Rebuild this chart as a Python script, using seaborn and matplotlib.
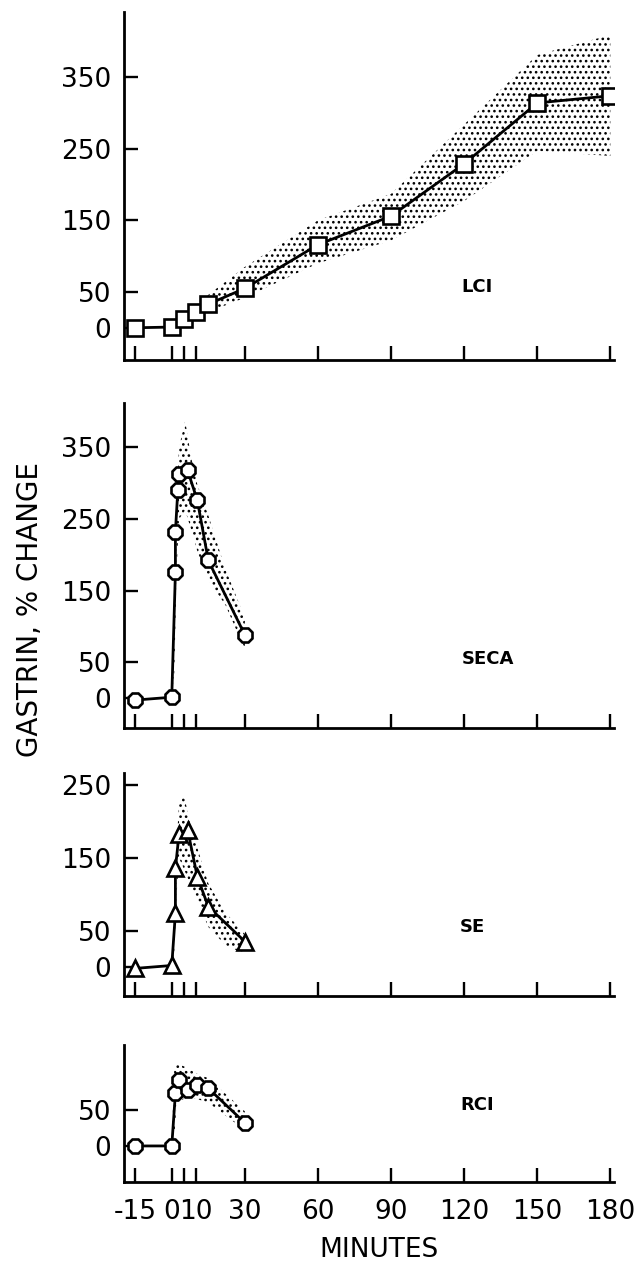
import matplotlib
matplotlib.use("Agg")
import matplotlib.pyplot as plt
import seaborn as sns
import pandas as pd

# ---------------- data ----------------
lci_t = [-15, 0, 5, 10, 15, 30, 60, 90, 120, 150, 180]
lci_v = [0, 1, 12, 22, 33, 55, 116, 156, 229, 314, 324]
lci_band_t = [0, 5, 10, 15, 30, 60, 90, 120, 150, 180]
lci_lo = [0, 5, 12, 22, 42, 90, 122, 177, 247, 240]
lci_hi = [2, 18, 33, 46, 85, 150, 187, 284, 381, 409]

seca_t = [-15, 0, 1.5, 1.5, 2.5, 3, 6.5, 10.5, 15, 30]
seca_v = [-3, 1, 176, 232, 291, 313, 318, 276, 192, 88]
seca_band_t = [0, 1, 2, 3, 5.5, 8, 10.5, 15, 22, 30]
seca_lo = [0, 30, 180, 250, 262, 235, 205, 165, 130, 68]
seca_hi = [5, 140, 290, 350, 387, 335, 298, 255, 180, 112]

se_t = [-15, 0, 1.5, 1.5, 3, 6.5, 10.5, 15, 30]
se_v = [-2, 2, 74, 136, 183, 189, 124, 83, 35]
se_band_t = [0, 1, 2, 3, 5, 8, 10.5, 15, 22, 30]
se_lo = [0, 20, 100, 150, 135, 110, 92, 55, 30, 18]
se_hi = [4, 80, 170, 225, 237, 190, 164, 115, 75, 45]

rci_t = [-15, 0, 1.5, 3, 6.5, 10.5, 15, 30]
rci_v = [0, 0, 73, 92, 78, 85, 80, 32]
rci_band_t = [0, 1, 2, 6.5, 10.5, 15, 30]
rci_lo = [0, 10, 60, 68, 65, 60, 22]
rci_hi = [3, 105, 115, 108, 100, 94, 48]

panel_names = ["LCI", "SECA", "SE", "RCI"]
x_ticks = [-15, 0, 5, 10, 30, 60, 90, 120, 150, 180]
x_tick_labels = ["-15", "0", "", "10", "30", "60", "90", "120", "150", "180"]
y_ticks_list = [[0, 50, 150, 250, 350], [0, 50, 150, 250, 350], [0, 50, 150, 250], [0, 50]]
y_label = "GASTRIN, % CHANGE"
x_label = "MINUTES"

# ---------------- style ----------------
sns.set_style("ticks")
plt.rcParams["font.family"] = ["DejaVu Sans"]
plt.rcParams["hatch.linewidth"] = 1.1
plt.rcParams["hatch.color"] = "black"
plt.rcParams["text.color"] = "black"

W, H = 642, 1277
fig = plt.figure(figsize=(W / 100, H / 100), dpi=100)

left_px, right_px = 124, 614
panels_px = [(12, 360), (403, 728), (773, 996), (1045, 1182)]
ylims = [(-45, 441), (-42, 412), (-40, 267), (-50, 140)]
markers = ["s", "8", "^", "8"]
series = [
    (lci_t, lci_v, lci_band_t, lci_lo, lci_hi),
    (seca_t, seca_v, seca_band_t, seca_lo, seca_hi),
    (se_t, se_v, se_band_t, se_lo, se_hi),
    (rci_t, rci_v, rci_band_t, rci_lo, rci_hi),
]
label_pos_px = [(477, 287), (488, 659), (472, 927), (477, 1105)]
hatches = ["...", "...", "...", "..."]

for i, (top, bot) in enumerate(panels_px):
    ax = fig.add_axes([left_px / W, 1 - bot / H, (right_px - left_px) / W, (bot - top) / H])
    t, v, bt, lo, hi = series[i]
    ax.fill_between(bt, lo, hi, facecolor="none", edgecolor="black",
                    hatch=hatches[i], linewidth=0, zorder=1)
    df = pd.DataFrame({"t": t, "v": v})
    sns.lineplot(data=df, x="t", y="v", ax=ax, sort=False, estimator=None,
                 color="black", linewidth=2.0, marker=markers[i],
                 markersize=11 if markers[i] != "^" else 11.5,
                 markerfacecolor="white", markeredgecolor="black",
                 markeredgewidth=1.9, zorder=3)
    ax.set_xlim(-19.6, 181.5)
    ax.set_ylim(*ylims[i])
    ax.set_yticks(y_ticks_list[i])
    ax.set_yticklabels([str(y) for y in y_ticks_list[i]])
    ax.set_xticks(x_ticks)
    if i == 3:
        ax.set_xticklabels(x_tick_labels)
    else:
        ax.set_xticklabels([])
    ax.set_xlabel("")
    ax.set_ylabel("")
    for s in ["top", "right"]:
        ax.spines[s].set_visible(False)
    for s in ["left", "bottom"]:
        ax.spines[s].set_linewidth(2.0)
        ax.spines[s].set_color("black")
    ax.tick_params(axis="both", direction="in", length=10, width=1.7,
                   colors="black", labelsize=19)
    ax.tick_params(axis="y", pad=9)
    ax.tick_params(axis="x", pad=12)
    ax.set_facecolor("none")
    lx, ly = label_pos_px[i]
    fig.text(lx / W, 1 - ly / H, panel_names[i], ha="center", va="center",
             fontsize=13, fontweight="bold", color="black")

fig.text(30 / W, 1 - 610 / H, y_label, rotation=90, ha="center", va="center",
         fontsize=20, color="black")
fig.text(379 / W, 1 - 1250 / H, x_label, ha="center", va="center", fontsize=19,
         color="black")

fig.savefig("out.png", dpi=100, facecolor="white")
